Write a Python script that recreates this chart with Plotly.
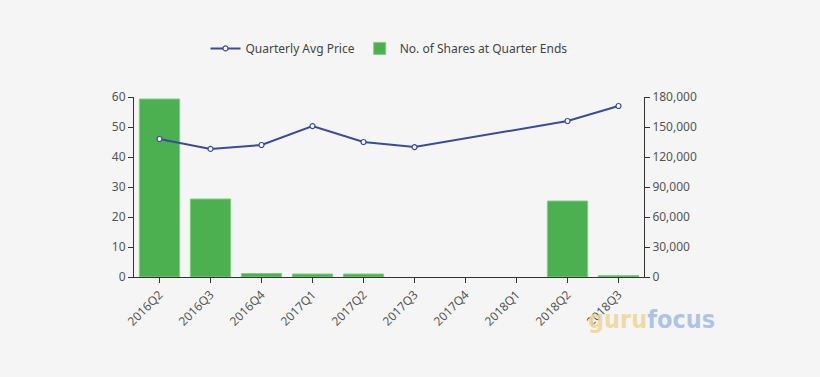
import plotly.graph_objects as go

quarters = ["2016Q2", "2016Q3", "2016Q4", "2017Q1", "2017Q2", "2017Q3", "2017Q4", "2018Q1", "2018Q2", "2018Q3"]
avg_price = [46.0, 42.7, 44.0, 50.3, 45.0, 43.3, None, None, 52.0, 57.0]
shares = [178000, 78000, 3500, 3000, 3000, None, None, None, 76000, 1500]

fig = go.Figure()
fig.add_trace(go.Bar(
    x=quarters, y=shares, name="No. of Shares at Quarter Ends",
    marker=dict(color="#4caf50", line=dict(color="#7fcf82", width=1)),
    yaxis="y", legendrank=2,
))
fig.add_trace(go.Scatter(
    x=quarters, y=avg_price, name="Quarterly Avg Price", mode="lines+markers",
    connectgaps=True,
    line=dict(color="#3a4aa0", width=2),
    marker=dict(symbol="circle", size=5, color="white", line=dict(color="#3a4aa0", width=1.2)),
    yaxis="y2", legendrank=1,
))

axis_font = dict(family="Noto Sans, sans-serif", size=12, color="#555555")
common = dict(showgrid=False, showline=True, linecolor="#333333", ticks="outside",
              ticklen=5, tickcolor="#333333", tickfont=axis_font, zeroline=False)
fig.update_layout(
    width=820, height=377,
    paper_bgcolor="#f5f5f5", plot_bgcolor="#f5f5f5",
    margin=dict(l=134, r=176, t=97, b=100),
    bargap=0.21,
    showlegend=True,
    legend=dict(orientation="h", x=0.5, xanchor="center", y=1.27, yanchor="middle",
                font=dict(family="Noto Sans, sans-serif", size=12, color="#444444"),
                bgcolor="rgba(0,0,0,0)"),
    xaxis=dict(type="category", tickangle=-45, range=[-0.5, 9.5], **common),
    yaxis=dict(range=[0, 180000], dtick=30000, side="right", tickformat=",d", **common),
    yaxis2=dict(range=[0, 60], dtick=10, overlaying="y", side="left", **common),
)

fig.add_annotation(
    text="<b><span style='color:rgba(238,214,150,0.85)'>guru</span><span style='color:rgba(160,188,228,0.85)'>focus</span></b>",
    xref="paper", yref="paper", x=1.015, y=-0.235, xanchor="center", yanchor="middle",
    showarrow=False, font=dict(family="DejaVu Sans Condensed, Liberation Sans Narrow, sans-serif", size=25),
)

fig.write_html("out.html", config={"displayModeBar": False},
               post_script="document.body.style.margin='0';document.body.style.background='#f5f5f5';")
